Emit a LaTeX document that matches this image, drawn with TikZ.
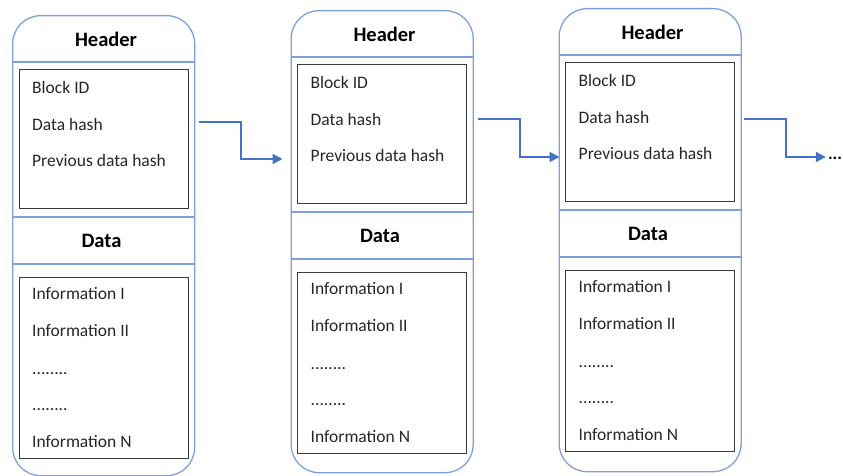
\documentclass[tikz,border=0pt]{standalone}
\usepackage{fontspec}
\setmainfont{Carlito}
\usetikzlibrary{arrows.meta,calc}

\definecolor{frameblue}{HTML}{7F9FDD}
\definecolor{linkblue}{HTML}{4472C4}
\definecolor{boxgray}{HTML}{3A3A3A}
\definecolor{inkgray}{HTML}{262626}

\tikzset{
  blockframe/.style={draw=frameblue, line width=1.3pt, rounded corners=28pt,
    minimum width=182pt, inner sep=0pt, anchor=north west},
  divider/.style={draw=frameblue, line width=1.1pt},
  fieldbox/.style={draw=boxgray, line width=1.4pt, minimum width=169pt,
    inner sep=0pt, anchor=north west},
  title/.style={font=\fontsize{20.5}{24}\selectfont\bfseries, text=black, inner sep=0pt},
  entry/.style={font=\fontsize{17.5}{21}\selectfont, text=inkgray, inner sep=0pt, anchor=west},
  filler/.style={entry, anchor=base west},
  link/.style={draw=linkblue, line width=2pt, -{Triangle[length=10pt,width=10pt]}},
}

% One block of the chain: name, left x, top y, height
\newcommand\chainblock[4]{%
  \node[blockframe, minimum height=#4pt] (#1) at (#2,#3) {};
  \begin{scope}[shift={(#2,#3)}]
    \draw[divider] (0,47) -- (182,47);
    \draw[divider] (0,202) -- (182,202);
    \draw[divider] (0,249) -- (182,249);
    \node[title] (#1-htitle) at (94,24) {Header};
    \node[fieldbox, minimum height=139pt] (#1-hbox) at (6.5,54) {};
    \node[entry] (#1-id) at (20,72.5) {Block ID};
    \node[entry] (#1-dh) at (20,109) {Data hash};
    \node[entry] (#1-prev) at (20,145.5) {Previous data hash};
    \node[title] (#1-dtitle) at (89.5,225.5) {Data};
    \node[fieldbox, minimum height=181pt] (#1-dbox) at (6.5,262) {};
    \node[entry] (#1-i1) at (20,279) {Information I};
    \node[entry] (#1-i2) at (20,315.5) {Information II};
    \node[filler] (#1-f1) at (20,359) {........};
    \node[filler] (#1-f2) at (20,395) {........};
    \node[entry] (#1-in) at (20,427) {Information N};
  \end{scope}
}

\begin{document}
\begin{tikzpicture}[x=1pt, y=-1pt]
  \useasboundingbox (0,0) rectangle (843,476);

  \chainblock{b1}{12}{15}{460}
  \chainblock{b2}{290.5}{10}{462}
  \chainblock{b3}{558.5}{8}{463}

  % links between consecutive blocks
  \draw[link] ($(b1.north east)+(4,107)$) -| ++(42,37) -- ($(b2.north west)+(-8,149)$);
  \draw[link] ($(b2.north east)+(4,109)$) -| ++(42,38) -- ($(b3.north west)+(1,149)$);

  \coordinate (chainend) at ($(b3.north east)+(84,149)$);
  \draw[link] ($(b3.north east)+(2,111)$) -| ++(42,38) -- (chainend);
  \node[entry, font=\fontsize{17.5}{21}\selectfont\bfseries, text=black, anchor=base west]
    (more) at ($(chainend)+(2,3)$) {...};
\end{tikzpicture}
\end{document}
